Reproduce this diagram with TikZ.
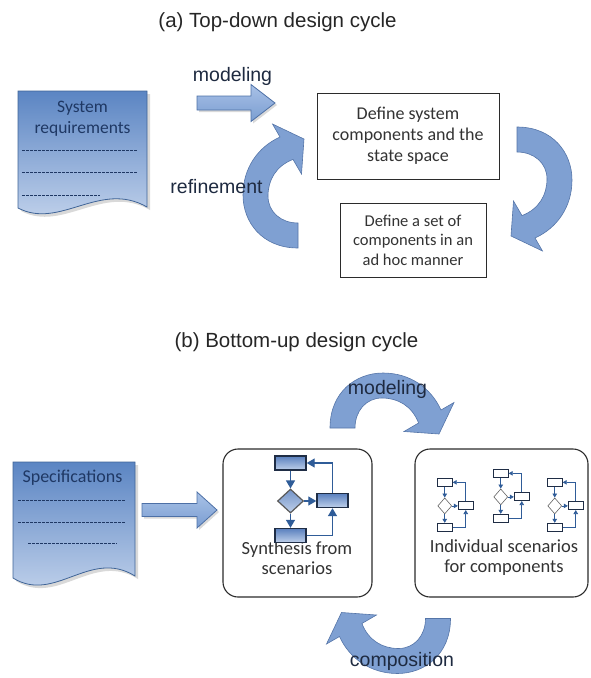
\documentclass[tikz,border=0pt]{standalone}
\usepackage{fontspec}
\setmainfont{Liberation Sans}
\newfontfamily\calibri{Carlito}
\usetikzlibrary{arrows.meta,shapes.geometric}

\definecolor{docdark}{HTML}{5B85C3}
\definecolor{doclight}{HTML}{C8D7EE}
\definecolor{docline}{HTML}{3F6497}
\definecolor{doctext}{HTML}{1F3864}
\definecolor{cfill}{HTML}{7FA0D2}
\definecolor{cline}{HTML}{5575A8}
\definecolor{blktop}{HTML}{A9C2E7}
\definecolor{blkbot}{HTML}{7A9DD1}
\definecolor{blkline}{HTML}{4D70A6}
\definecolor{flowline}{HTML}{2F5C98}
\definecolor{boxline}{HTML}{2B2B2B}
\definecolor{frtop}{HTML}{5A80BE}
\definecolor{frbot}{HTML}{BFD0EA}
\definecolor{frline}{HTML}{1F2D45}
\definecolor{lbltext}{HTML}{1E2A40}

\newcommand{\blockarrow}[6]{% x0, head start, tip, yc, shaft half, head half
  \fill[softshadow] ({#1+2},{#4-#5+2}) -- ({#2+2},{#4-#5+2}) -- ({#2+2},{#4-#6+2}) -- ({#3+2},{#4+2}) -- ({#2+2},{#4+#6+2}) -- ({#2+2},{#4+#5+2}) -- ({#1+2},{#4+#5+2}) -- cycle;
  \path[blockarr] (#1,{#4-#5}) -- (#2,{#4-#5}) -- (#2,{#4-#6}) -- (#3,#4) -- (#2,{#4+#6}) -- (#2,{#4+#5}) -- (#1,{#4+#5}) -- cycle;
}

\newcommand{\circarrowpath}{%
  \path[circarrow] (298,248) .. controls (262,248) and (243,222) .. (243,195)
     .. controls (243,168) and (258,147) .. (280,137) -- (272.5,124) -- (304,139)
     -- (301.5,174) -- (293,159.4) .. controls (276,166) and (268,180) .. (268,196)
     .. controls (268,212) and (281,223) .. (298,223) -- cycle;
}

\newcommand{\flowchart}[6]{% prefix, x0, y0, sx, sy, variant
  \node[fr#6] (#1r1) at ({#2+15.5*#4},{#3+7*#5}) {};
  \node[fd#6] (#1d) at ({#2+15.5*#4},{#3+45*#5}) {};
  \node[fr#6] (#1r3) at ({#2+15.5*#4},{#3+79.5*#5}) {};
  \node[fr#6] (#1r2) at ({#2+57.5*#4},{#3+44.5*#5}) {};
  \draw[fa#6] (#1r1) -- (#1d);
  \draw[fa#6] (#1d) -- (#1r3);
  \draw[fa#6] (#1d.east) -- (#1d.east -| #1r2.west);
  \draw[fa#6] (#1r3.east) -| (#1r2.south);
  \draw[fa#6] (#1r2.north) |- (#1r1.east);
}

\begin{document}
\begin{tikzpicture}[x=1pt,y=-1pt,
  lbl/.style={font=\fontsize{19.5}{23}\selectfont, text=lbltext, inner sep=0pt, anchor=base},
  ttl/.style={font=\fontsize{20.5}{24}\selectfont, text=black!85, inner sep=0pt, anchor=base},
  doctxt/.style={font=\calibri\fontsize{17.5}{21}\selectfont, text=doctext, align=center, inner sep=0pt},
  docshape/.style={draw=docline, line width=0.8pt, top color=docdark, bottom color=doclight},
  docdash/.style={doctext, line width=0.9pt, dash pattern=on 2.5pt off 1.5pt},
  softshadow/.style={fill=black!15, draw=none},
  blockarr/.style={draw=blkline, line width=0.8pt, top color=blktop, bottom color=blkbot},
  circarrow/.style={fill=cfill, draw=cline, line width=0.6pt},
  sqbox/.style={draw=boxline, line width=0.9pt, fill=white, inner sep=0pt, align=center, text=black!80},
  rbox/.style={draw=boxline, line width=1.1pt, rounded corners=15pt, fill=white, inner sep=0pt},
  ctext/.style={font=\calibri\fontsize{18.5}{20}\selectfont, text=black!80, align=center, inner sep=0pt},
  frbig/.style={rectangle, draw=frline, line width=1.4pt, top color=frtop, bottom color=frbot, minimum width=31pt, minimum height=14pt, inner sep=0pt},
  fdbig/.style={diamond, draw=black!65, line width=1.2pt, top color=frtop!85, bottom color=frbot, minimum width=26pt, minimum height=24pt, inner sep=0pt},
  fabig/.style={draw=flowline, line width=1.3pt, -{Triangle[length=8pt,width=9pt]}},
  frsmall/.style={rectangle, draw=frline, line width=0.9pt, fill=white, minimum width=15pt, minimum height=8pt, inner sep=0pt},
  fdsmall/.style={diamond, draw=black!60, line width=0.6pt, fill=white, minimum width=14pt, minimum height=16pt, inner sep=0pt},
  fasmall/.style={draw=flowline, line width=0.7pt, -{Triangle[length=4pt,width=4.5pt]}},
]
\useasboundingbox (0,0) rectangle (590,678);

% ---------------- (a) ----------------
\node[ttl] (ta) at (277.5,27) {(a) Top-down design cycle};

% document 1
\fill[softshadow] (21,94) -- (150,94) -- (150,210) .. controls (103,183) and (63,233) .. (21,211) -- cycle;
\path[docshape] (18,91) -- (147,91) -- (147,207) .. controls (100,180) and (60,230) .. (18,208) -- cycle;
\node[doctxt] (doc1) at (82.5,119) {System\\requirements};
\draw[docdash] (22,150) -- (138,150);
\draw[docdash] (22,172) -- (138,172);
\draw[docdash] (22,195) -- (100,195);

% modeling block arrow
\blockarrow{197}{251}{275}{103}{7}{18.5}
\node[lbl] (lmodA) at (232.5,81) {modeling};

% circular arrows
\circarrowpath
\node[lbl] (lref) at (216.5,193) {refinement};
\begin{scope}[rotate around={180:(407.5,187.5)}]
  \circarrowpath
\end{scope}

% boxes
\node[sqbox, minimum width=182pt, minimum height=86pt, font=\calibri\fontsize{18}{21}\selectfont] (box1) at (408,136) {Define system\\components and the\\state space};
\node[sqbox, minimum width=146pt, minimum height=74pt, font=\calibri\fontsize{16.5}{19.5}\selectfont] (box2) at (413,240) {Define a set of\\components in an\\ad hoc manner};

% ---------------- (b) ----------------
\node[ttl] (tb) at (296.5,347) {(b) Bottom-up design cycle};

% document 2
\fill[softshadow] (16,465) -- (138,465) -- (138,579) .. controls (93,551) and (58,607) .. (16,581) -- cycle;
\path[docshape] (13,462) -- (135,462) -- (135,576) .. controls (90,548) and (55,604) .. (13,578) -- cycle;
\node[doctxt, font=\calibri\fontsize{18}{21}\selectfont] (doc2) at (72.5,477.5) {Specifications};
\draw[docdash] (18,500) -- (125,500);
\draw[docdash] (18,522) -- (125,522);
\draw[docdash] (28,543) -- (117,543);

\blockarrow{142}{197}{217}{510}{6.5}{18}

% modeling / composition arrows
\begin{scope}[rotate around={-90:(224,354)}]
  \circarrowpath
\end{scope}
\node[lbl] (lmodB) at (387.5,394) {modeling};
\begin{scope}[rotate around={90:(559.5,357)}]
  \circarrowpath
\end{scope}
\node[lbl] (lcomp) at (402,666) {composition};

% rounded boxes
\node[rbox, minimum width=149pt, minimum height=148pt] (box3) at (297.5,523) {};
\node[ctext] (box3t) at (297,558) {Synthesis from\\scenarios};
\node[rbox, minimum width=173pt, minimum height=148pt] (box4) at (501.5,523) {};
\node[ctext] (box4t) at (504,558) {Individual scenarios\\for components};

% flowcharts
\flowchart{F}{275}{456}{1}{1}{big}
\flowchart{A}{437}{478}{0.5}{0.62}{small}
\flowchart{B}{493}{469}{0.5}{0.62}{small}
\flowchart{C}{547}{478}{0.5}{0.62}{small}

\end{tikzpicture}
\end{document}
